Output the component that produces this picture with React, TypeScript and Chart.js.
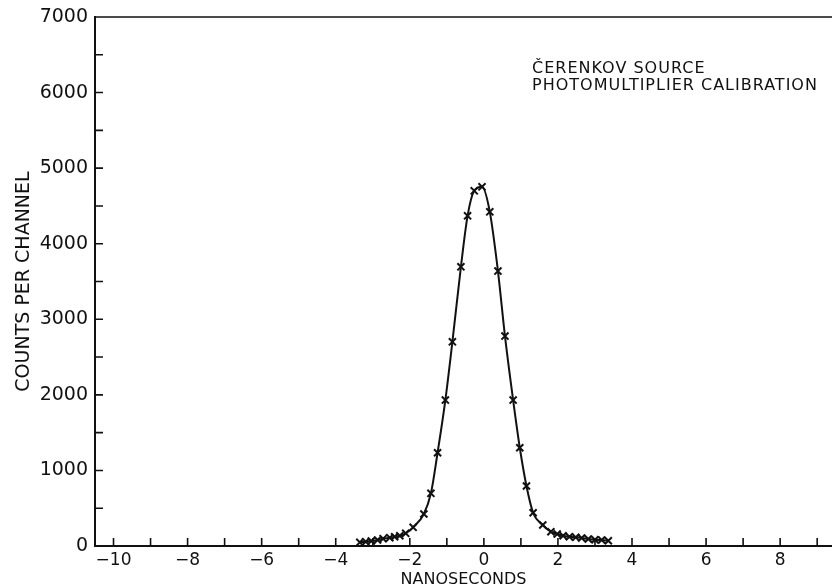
import React, { useEffect, useRef } from "react";
import { Chart, registerables } from "chart.js";

Chart.register(...registerables);

// Channel positions (ns) and counts
const nanoseconds = [
  -3.35, -3.19, -3.04, -2.87, -2.72, -2.54, -2.41, -2.27, -2.11, -1.91, -1.62, -1.43,
  -1.25, -1.04, -0.85, -0.62, -0.44, -0.26, -0.05, 0.16, 0.38, 0.57, 0.79, 0.97, 1.15,
  1.33, 1.59, 1.81, 1.98, 2.14, 2.31, 2.48, 2.64, 2.82, 3.0, 3.18, 3.36,
];
const counts = [
  49, 57, 66, 79, 97, 110, 123, 136, 168, 247, 423, 697, 1234, 1931, 2702, 3694, 4369,
  4700, 4753, 4422, 3638, 2778, 1931, 1300, 794, 440, 278, 189, 159, 136, 123, 115, 106,
  93, 83, 79, 70,
];

const xTickValues = [-10, -8, -6, -4, -2, 0, 2, 4, 6, 8];
const xMinorTicks = [-10, -9, -8, -7, -6, -5, -4, -3, -2, -1, 0, 1, 2, 3, 4, 5, 6, 7, 8, 9];
const yTickValues = [0, 1000, 2000, 3000, 4000, 5000, 6000, 7000];
const yMinorTicks = [500, 1000, 1500, 2000, 2500, 3000, 3500, 4000, 4500, 5000, 5500, 6000, 6500];

const annotationLines = ["ČERENKOV SOURCE", "PHOTOMULTIPLIER CALIBRATION"];
const annotationX = 1.3;
const annotationY = [6320, 6085];

const FONT = '"DejaVu Sans", "Liberation Sans", sans-serif';
const INK = "#111";

const framePlugin = {
  id: "frame",
  afterDraw(chart: any) {
    const { ctx, chartArea: a, scales } = chart;
    const x = scales.x;
    const y = scales.y;
    ctx.save();
    ctx.strokeStyle = INK;
    ctx.lineWidth = 1.6;
    ctx.beginPath();
    ctx.moveTo(a.left, a.top);
    ctx.lineTo(a.right, a.top);
    xMinorTicks.forEach((v) => {
      const p = x.getPixelForValue(v);
      ctx.moveTo(p, a.bottom);
      ctx.lineTo(p, a.bottom - 8);
    });
    yMinorTicks.forEach((v) => {
      const p = y.getPixelForValue(v);
      ctx.moveTo(a.left, p);
      ctx.lineTo(a.left + 8, p);
    });
    ctx.stroke();

    ctx.fillStyle = INK;
    ctx.font = `16px ${FONT}`;
    (ctx as any).letterSpacing = "1px";
    ctx.textAlign = "left";
    ctx.textBaseline = "middle";
    const ax = x.getPixelForValue(annotationX);
    annotationLines.forEach((t, i) => {
      ctx.fillText(t, ax, y.getPixelForValue(annotationY[i]));
    });
    ctx.restore();
  },
};

export default function App() {
  const canvasRef = useRef<HTMLCanvasElement | null>(null);

  useEffect(() => {
    const canvas = canvasRef.current;
    if (!canvas) return;
    const chart = new Chart(canvas, {
      type: "line",
      data: {
        datasets: [
          {
            data: nanoseconds.map((v, i) => ({ x: v, y: counts[i] })),
            borderColor: INK,
            borderWidth: 2,
            pointStyle: "crossRot",
            pointRadius: 5,
            pointBorderWidth: 2,
            pointBorderColor: INK,
            pointBackgroundColor: INK,
            cubicInterpolationMode: "monotone",
            fill: false,
          },
        ],
      },
      options: {
        animation: false,
        responsive: false,
        devicePixelRatio: 1,
        layout: { autoPadding: false, padding: { top: 17, right: 0, left: 0, bottom: 0 } },
        plugins: {
          legend: { display: false },
          tooltip: { enabled: false },
        },
        scales: {
          x: {
            type: "linear",
            min: -10.5,
            max: 9.4,
            grid: { display: false, drawTicks: false },
            border: { display: true, color: INK, width: 2 },
            afterBuildTicks: (s: any) => {
              s.ticks = xTickValues.map((v) => ({ value: v }));
            },
            afterFit: (s: any) => {
              s.height = 42;
              s.paddingLeft = 0;
              s.paddingRight = 0;
            },
            ticks: {
              color: INK,
              font: { family: FONT, size: 17 },
              padding: 4,
              maxRotation: 0,
              autoSkip: false,
              callback: (v: any) => (Number(v) < 0 ? "−" + Math.abs(Number(v)) : String(v)),
            },
            title: {
              display: true,
              text: "NANOSECONDS",
              color: INK,
              font: { family: FONT, size: 16, lineHeight: 1 },
              padding: { top: 0, bottom: 0 },
            },
          },
          y: {
            type: "linear",
            min: 0,
            max: 7000,
            grid: { display: false, drawTicks: false },
            border: { display: true, color: INK, width: 2 },
            afterBuildTicks: (s: any) => {
              s.ticks = yTickValues.map((v) => ({ value: v }));
            },
            afterFit: (s: any) => {
              s.width = 95;
              s.paddingTop = 0;
              s.paddingBottom = 0;
            },
            ticks: {
              color: INK,
              font: { family: FONT, size: 19 },
              padding: 7,
              autoSkip: false,
              callback: (v: any) => String(v),
            },
            title: {
              display: true,
              text: "COUNTS PER CHANNEL",
              color: INK,
              font: { family: FONT, size: 19, lineHeight: 1 },
              padding: { top: 15, bottom: 0 },
            },
          },
        },
      },
      plugins: [framePlugin],
    } as any);
    return () => chart.destroy();
  }, []);

  return (
    <div style={{ position: "absolute", left: 0, top: 0, width: 832, height: 588, background: "#fff" }}>
      <canvas ref={canvasRef} width={832} height={588} style={{ display: "block", width: 832, height: 588 }} />
    </div>
  );
}
